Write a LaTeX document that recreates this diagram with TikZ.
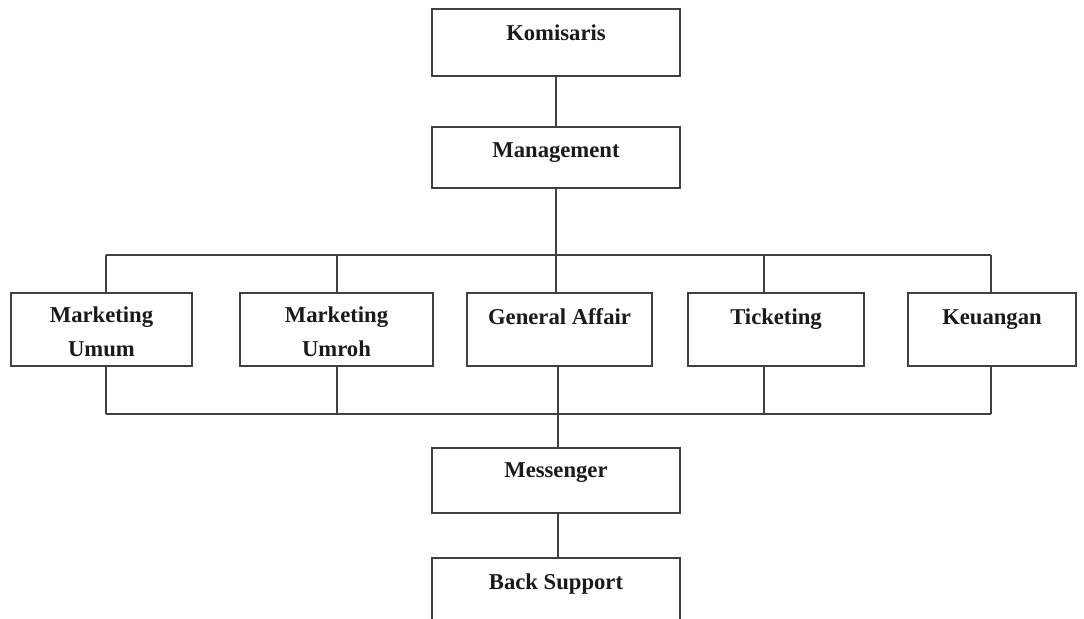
\documentclass[tikz,border=0pt]{standalone}
\usepackage{fontspec}
\setmainfont{Liberation Serif}
\usetikzlibrary{calc}
\definecolor{linegray}{HTML}{404040}
\definecolor{inkblack}{HTML}{1A1A1A}
\begin{document}
\begin{tikzpicture}[x=0.75pt,y=-0.75pt,
  unit/.style={draw=linegray, line width=1.4pt, rectangle, inner sep=0pt, fill=white},
  conn/.style={draw=linegray, line width=1.2pt},
  caption/.style={font=\fontsize{17}{25.5}\selectfont\bfseries, anchor=base,
    align=center, text=inkblack, inner sep=0pt}]
\useasboundingbox (0,0) rectangle (1084,618);
\clip (0,0) rectangle (1084,618);
\fill[white] (0,0) rectangle (1084,618);

% top of the chart
\node[unit, minimum width=186pt, minimum height=50.25pt] (kom) at (556,42.5) {};
\node[unit, minimum width=186pt, minimum height=45.75pt] (man) at (556,157.5) {};

% divisions
\node[unit, minimum width=135.75pt, minimum height=54.75pt] (mu) at (101.5,329.5) {};
\node[unit, minimum width=144.75pt, minimum height=54.75pt] (mr) at (336.5,329.5) {};
\node[unit, minimum width=138.75pt, minimum height=54.75pt] (ga) at (559.5,329.5) {};
\node[unit, minimum width=132pt, minimum height=54.75pt] (tk) at (776,329.5) {};
\node[unit, minimum width=126pt, minimum height=54.75pt] (ke) at (992,329.5) {};

% support staff
\node[unit, minimum width=186pt, minimum height=48.75pt] (mes) at (556,480.5) {};
\node[unit, minimum width=186pt, minimum height=69pt] (bs) at (556,604) {};

% captions (a two-line caption sits on the baseline of its last line)
\node[caption] (komT) at ($(kom.north)+(0,32)$) {Komisaris};
\node[caption] (manT) at ($(man.north)+(0,31)$) {Management};
\node[caption] (muT) at ($(mu.north)+(0,64)$) {Marketing\\Umum};
\node[caption] (mrT) at ($(mr.north)+(0,64)$) {Marketing\\Umroh};
\node[caption] (gaT) at ($(ga.north)+(0,32)$) {General Affair};
\node[caption] (tkT) at ($(tk.north)+(0,32)$) {Ticketing};
\node[caption] (keT) at ($(ke.north)+(0,32)$) {Keuangan};
\node[caption] (mesT) at ($(mes.north)+(0,30)$) {Messenger};
\node[caption] (bsT) at ($(bs.north)+(0,32)$) {Back Support};

% junction points on the two horizontal rails
\coordinate (dMU) at (106,255);
\coordinate (dMR) at (337,255);
\coordinate (dGA) at (556,255);
\coordinate (dTK) at (764,255);
\coordinate (dKE) at (991,255);
\coordinate (uMU) at (106,414);
\coordinate (uMR) at (337,414);
\coordinate (uGA) at (558,414);
\coordinate (uTK) at (764,414);
\coordinate (uKE) at (991,414);

% connectors
\draw[conn] (kom.south) -- (man.north);
\draw[conn] (man.south) -- (dGA);
\draw[conn] (dMU) -- (dKE);
\draw[conn] (dMU) -- (dMU |- mu.north);
\draw[conn] (dMR) -- (dMR |- mr.north);
\draw[conn] (dGA) -- (dGA |- ga.north);
\draw[conn] (dTK) -- (dTK |- tk.north);
\draw[conn] (dKE) -- (dKE |- ke.north);
\draw[conn] (uMU |- mu.south) -- (uMU);
\draw[conn] (uMR |- mr.south) -- (uMR);
\draw[conn] (uGA |- ga.south) -- (uGA);
\draw[conn] (uTK |- tk.south) -- (uTK);
\draw[conn] (uKE |- ke.south) -- (uKE);
\draw[conn] (uMU) -- (uKE);
\draw[conn] (uGA) -- (uGA |- mes.north);
\draw[conn] (uGA |- mes.south) -- (uGA |- bs.north);
\end{tikzpicture}
\end{document}
